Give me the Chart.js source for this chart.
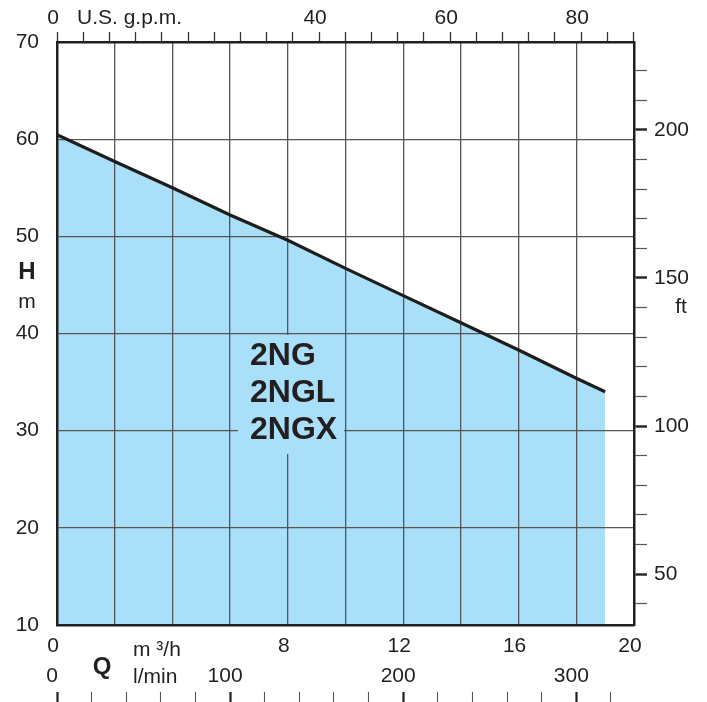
<!DOCTYPE html>
<html>
<head>
<meta charset="utf-8">
<script src="https://cdn.jsdelivr.net/npm/chart.js@4.4.1/dist/chart.umd.min.js"></script>
<style>
  html, body { margin: 0; padding: 0; background: #fff; }
</style>
</head>
<body>
<canvas id="pumpChart" width="707" height="702"></canvas>
<script>
// Pumpkurva: Q i m3/h, H i m (avläst från kurvan)
const flowM3h = [0, 2, 4, 6, 8, 10, 12, 14, 16, 18, 19];
const headM = [60.45, 57.7, 55.0, 52.2, 49.6, 46.7, 43.9, 41.1, 38.3, 35.4, 34.0];

const modelNames = ['2NG', '2NGL', '2NGX'];

// tick-värden för hjälpaxlarna
const m3hLabels = [0, 8, 12, 16, 20];
const gpmTicks = [0, 4, 8, 12, 16, 20, 24, 28, 32, 36, 40, 44, 48, 52, 56, 60, 64, 68, 72, 76, 80, 84, 88];
const gpmLabels = [0, 40, 60, 80];
const ftTicks = [40, 50, 60, 70, 80, 90, 100, 110, 120, 130, 140, 150, 160, 170, 180, 190, 200, 210, 220];
const ftLabels = [50, 100, 150, 200];
const lminTicks = [0, 20, 40, 60, 80, 100, 120, 140, 160, 180, 200, 220, 240, 260, 280, 300, 320];
const lminLabels = [0, 100, 200, 300];

const M3H_PER_GPM = 0.227125;
const M_PER_FT = 0.3048;

const ink = '#231f20';
const gridCol = '#555555';
const fillBlue = '#aadff9';
const fam = "'Liberation Sans', Arial, Helvetica, sans-serif";
const tickFont = { family: fam, size: 21 };

const setTicks = (list) => (s) => { s.ticks = list.map(v => ({ value: v })); };

// Texter som inte hör till någon axel
const notesPlugin = {
    id: 'notes',
    afterDraw(chart) {
        const { ctx, chartArea: a } = chart;
        ctx.save();

        // bakgrund bakom modellnamnen (döljer rutnätet)
        ctx.fillStyle = fillBlue;
        ctx.fillRect(a.left + 181, a.top + 293, 106, 119);

        ctx.fillStyle = ink;
        ctx.textBaseline = 'middle';
        ctx.textAlign = 'left';
        ctx.font = 'bold 32px ' + fam;
        modelNames.forEach((name, i) => {
            ctx.fillText(name, a.left + 193, a.top + 314 + i * 37);
        });

        ctx.font = '21px ' + fam;
        ctx.fillText('U.S. g.p.m.', 77, 18);
        ctx.fillText('l/min', 133, 677);
        ctx.textBaseline = 'alphabetic';
        ctx.fillText('m ³/h', 133, 656);

        ctx.textBaseline = 'middle';
        ctx.textAlign = 'center';
        ctx.fillText('m', 27, 302);
        ctx.fillText('ft', 681, 307);

        ctx.font = 'bold 24px ' + fam;
        ctx.fillText('H', 27, 272);
        ctx.fillText('Q', 102, 667);
        ctx.restore();
    }
};

const points = flowM3h.map((q, i) => ({ x: q, y: headM[i] }));

new Chart(document.getElementById('pumpChart'), {
    type: 'line',
    data: {
        datasets: [{
            data: points,
            borderColor: '#1d1d1b',
            borderWidth: 3.2,
            backgroundColor: fillBlue,
            fill: 'start',
            pointRadius: 0,
            tension: 0
        }]
    },
    options: {
        responsive: false,
        animation: false,
        devicePixelRatio: 1,
        layout: { padding: 0 },
        plugins: {
            legend: { display: false },
            tooltip: { enabled: false },
            filler: { drawTime: 'beforeDraw' }
        },
        scales: {
            x: {
                type: 'linear', position: 'bottom', min: 0, max: 20, weight: 0,
                ticks: {
                    stepSize: 2, autoSkip: false, maxRotation: 0, padding: 9, labelOffset: -4,
                    color: ink, font: tickFont,
                    callback: v => m3hLabels.includes(v) ? String(v) : ''
                },
                grid: { color: gridCol, lineWidth: 1.3, drawTicks: false },
                border: { color: ink, width: 2.5 },
                afterFit: s => { s.height = 37; }
            },
            lmin: {
                type: 'linear', position: 'bottom', min: 0, max: 20 * 1000 / 60, weight: 1,
                afterBuildTicks: setTicks(lminLabels),
                ticks: { autoSkip: false, maxRotation: 0, padding: 2, labelOffset: -5, color: ink, font: tickFont },
                grid: { display: false, drawTicks: false },
                border: { display: false },
                afterFit: s => { s.height = 30; }
            },
            lminTk: {
                type: 'linear', position: 'bottom', min: 0, max: 20 * 1000 / 60, weight: 2,
                afterBuildTicks: setTicks(lminTicks),
                ticks: { display: false, autoSkip: false },
                grid: {
                    drawOnChartArea: false, drawTicks: true, tickLength: 10,
                    tickWidth: c => lminLabels.includes(c.tick.value) ? 2.2 : 1.1,
                    tickColor: c => lminLabels.includes(c.tick.value) ? ink : '#555'
                },
                border: { display: false },
                afterFit: s => { s.height = 10; }
            },
            gpm: {
                type: 'linear', position: 'top', min: 0, max: 20 / M3H_PER_GPM,
                afterBuildTicks: setTicks(gpmTicks),
                ticks: {
                    autoSkip: false, maxRotation: 0, padding: 1, labelOffset: -4,
                    color: ink, font: tickFont,
                    callback: v => gpmLabels.includes(v) ? String(v) : ''
                },
                grid: { drawOnChartArea: false, tickLength: 10, tickColor: '#333', tickWidth: 1.3 },
                border: { color: ink, width: 2.5 },
                afterFit: s => { s.height = 42; }
            },
            y: {
                type: 'linear', position: 'left', min: 10, max: 70,
                ticks: { stepSize: 10, padding: 18, color: ink, font: tickFont },
                grid: { color: gridCol, lineWidth: 1.3, drawTicks: false },
                border: { color: ink, width: 2.5 },
                afterFit: s => { s.width = 57; }
            },
            ft: {
                type: 'linear', position: 'right', min: 10 / M_PER_FT, max: 70 / M_PER_FT,
                afterBuildTicks: setTicks(ftTicks),
                ticks: {
                    autoSkip: false, padding: 7, color: ink, font: tickFont,
                    callback: v => ftLabels.includes(v) ? String(v) : ''
                },
                grid: {
                    drawOnChartArea: false, tickLength: 13,
                    tickWidth: c => ftLabels.includes(c.tick.value) ? 2.4 : 1.2,
                    tickColor: c => ftLabels.includes(c.tick.value) ? ink : '#555'
                },
                border: { color: ink, width: 2.5 },
                afterFit: s => { s.width = 73; }
            }
        }
    },
    plugins: [notesPlugin]
});
</script>
</body>
</html>
